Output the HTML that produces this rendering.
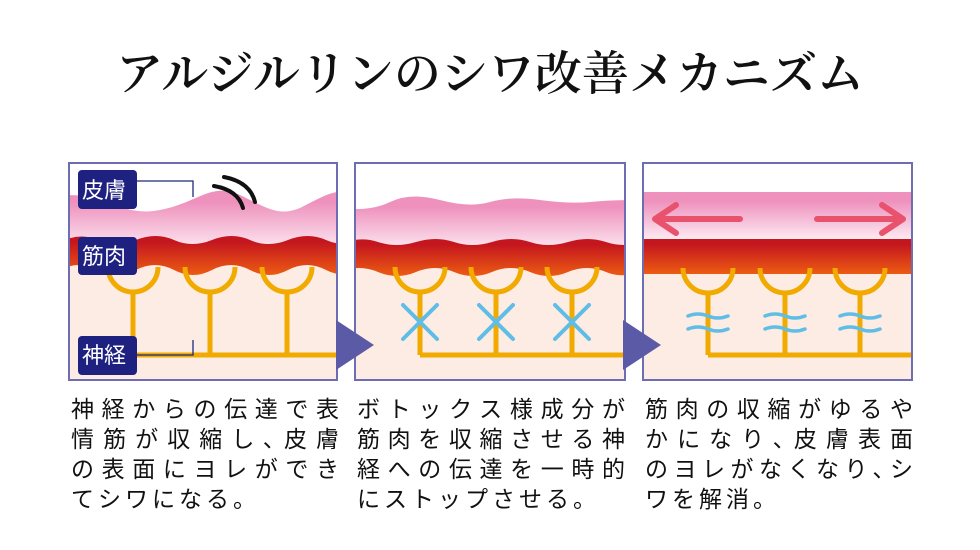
<!DOCTYPE html>
<html><head><meta charset="utf-8"><style>
body{margin:0;width:980px;height:550px;background:#fff;overflow:hidden;font-family:"Liberation Sans","Noto Sans CJK JP",sans-serif}
.t{position:absolute;font-size:23px;line-height:30px;color:#111;width:268px}
.t div{letter-spacing:4px;white-space:nowrap}
.t div.j{text-align:justify;text-align-last:justify;letter-spacing:0}
</style></head><body>
<svg width="980" height="550" style="position:absolute;left:0;top:0">
<defs>
<linearGradient id="sk" x1="0" y1="0" x2="0" y2="1"><stop offset="0.2" stop-color="#ee92bd"/><stop offset="1" stop-color="#fdeaf2"/></linearGradient>
<linearGradient id="mu" x1="0" y1="0" x2="0" y2="1"><stop offset="0.15" stop-color="#c4161f"/><stop offset="1" stop-color="#ec5c12"/></linearGradient>
<clipPath id="c1"><rect x="70" y="164" width="266" height="215"/></clipPath>
<clipPath id="c2"><rect x="356" y="164" width="268" height="215"/></clipPath>
<clipPath id="c3"><rect x="644" y="164" width="267" height="215"/></clipPath>
</defs>
<text x="490" y="90" text-anchor="middle" font-family="'Noto Serif CJK SC','Liberation Serif',serif" font-size="47" font-weight="600" fill="#111">アルジルリンのシワ改善メカニズム</text>

<!-- panel 1 -->
<g clip-path="url(#c1)">
<rect x="70" y="164" width="266" height="215" fill="#fdece3"/>
<rect x="70" y="164" width="266" height="70" fill="#fff"/>
<path d="M60 196 C100 190 120 218 160 210 C200 202 210 182 240 195 C270 210 280 216 300 208 C320 198 330 192 340 192 L340 250 L60 250Z" fill="url(#sk)"/>
<path d="M60 242 Q80 232 98 240 T136 240 T174 240 T212 240 T250 240 T288 240 T326 240 T364 240 L364 266 Q345 280 326 270 T288 270 T250 270 T212 270 T174 270 T136 270 T98 270 T60 270Z" fill="url(#mu)"/>
<g stroke="#f0aa00" stroke-width="5" fill="none">
<path d="M108 267 A25 25 0 0 0 158 267 M185 267 A25 25 0 0 0 235 267 M262 267 A25 25 0 0 0 312 267"/>
<path d="M133 292 V355 M210 292 V355 M287 292 V355 M133 355 H340"/>
</g>
<path d="M224 177 Q250 182 255 202 M214 186 Q238 190 243 208" stroke="#111" stroke-width="4" fill="none" stroke-linecap="round"/>
</g>
<rect x="69" y="163" width="268" height="217" fill="none" stroke="#6e6db4" stroke-width="2"/>
<path d="M137 181 H193 V197 M137 355 H193 V340" stroke="#1d2a7a" stroke-width="1.3" fill="none"/>
<g font-size="22" fill="#fff" font-family="'Liberation Sans','Noto Sans CJK JP',sans-serif">
<rect x="78" y="170" width="59" height="39" rx="4" fill="#1e2180"/><text x="82" y="198">皮膚</text>
<rect x="78" y="237" width="59" height="38" rx="4" fill="#1e2180"/><text x="82" y="264">筋肉</text>
<rect x="78" y="336" width="59" height="39" rx="4" fill="#1e2180"/><text x="82" y="363">神経</text>
</g>

<!-- panel 2 -->
<g clip-path="url(#c2)">
<rect x="356" y="164" width="268" height="215" fill="#fdece3"/>
<rect x="356" y="164" width="268" height="70" fill="#fff"/>
<path d="M340 208 Q370 212 390 202 T440 200 T490 202 T540 200 T590 202 T640 200 L640 250 L340 250Z" fill="url(#sk)"/>
<path d="M340 244 Q360 236 378 242 T416 242 T454 242 T492 242 T530 242 T568 242 T606 242 T644 242 L644 268 Q625 280 606 272 T568 272 T530 272 T492 272 T454 272 T416 272 T378 272 T340 272Z" fill="url(#mu)"/>
<g stroke="#f0aa00" stroke-width="5" fill="none">
<path d="M395 267 A25 25 0 0 0 445 267 M471 267 A25 25 0 0 0 521 267 M547 267 A25 25 0 0 0 597 267"/>
<path d="M420 292 V355 M496 292 V355 M572 292 V355 M420 355 H630"/>
</g>
<g stroke="#5fbde6" stroke-width="4" stroke-linecap="round">
<path d="M403 305 L437 339 M437 305 L403 339 M479 305 L513 339 M513 305 L479 339 M555 305 L589 339 M589 305 L555 339"/>
</g>
</g>
<rect x="355" y="163" width="270" height="217" fill="none" stroke="#6e6db4" stroke-width="2"/>

<!-- panel 3 -->
<g clip-path="url(#c3)">
<rect x="644" y="164" width="267" height="215" fill="#fdece3"/>
<rect x="644" y="164" width="267" height="28" fill="#fff"/>
<rect x="644" y="192" width="267" height="47" fill="url(#sk)"/>
<rect x="644" y="239" width="267" height="35" fill="url(#mu)"/>
<g stroke="#f0aa00" stroke-width="5" fill="none">
<path d="M683 268 A25 25 0 0 0 733 268 M760 268 A25 25 0 0 0 810 268 M835 268 A25 25 0 0 0 885 268"/>
<path d="M708 293 V355 M785 293 V355 M860 293 V355 M708 355 H912"/>
</g>
<g stroke="#5fbde6" stroke-width="3.5" fill="none" stroke-linecap="round">
<path d="M688 316 Q698 312 708 316 T728 316 M688 329 Q698 325 708 329 T728 329"/>
<path d="M765 316 Q775 312 785 316 T805 316 M765 329 Q775 325 785 329 T805 329"/>
<path d="M840 316 Q850 312 860 316 T880 316 M840 329 Q850 325 860 329 T880 329"/>
</g>
<g stroke="#e9526c" stroke-width="6" fill="none" stroke-linecap="round" stroke-linejoin="round">
<path d="M740 219 H656 M676 205 L655 219 L676 233"/>
<path d="M817 219 H902 M882 205 L903 219 L882 233"/>
</g>
</g>
<rect x="643" y="163" width="269" height="217" fill="none" stroke="#6e6db4" stroke-width="2"/>
<path d="M336 320 L374 345 L336 370Z" fill="#5b5aa6"/>
<path d="M623 320 L661 345 L623 370Z" fill="#5b5aa6"/>
</svg>
<div class="t" style="left:71px;top:394px"><div class="j">神経からの伝達で表</div><div class="j">情筋が収縮し､皮膚</div><div class="j">の表面にヨレができ</div><div>てシワになる。</div></div>
<div class="t" style="left:357px;top:394px"><div class="j">ボトックス様成分が</div><div class="j">筋肉を収縮させる神</div><div class="j">経への伝達を一時的</div><div>にストップさせる。</div></div>
<div class="t" style="left:645px;top:394px"><div class="j">筋肉の収縮がゆるや</div><div class="j">かになり､皮膚表面</div><div class="j">のヨレがなくなり､シ</div><div>ワを解消。</div></div>
</body></html>
